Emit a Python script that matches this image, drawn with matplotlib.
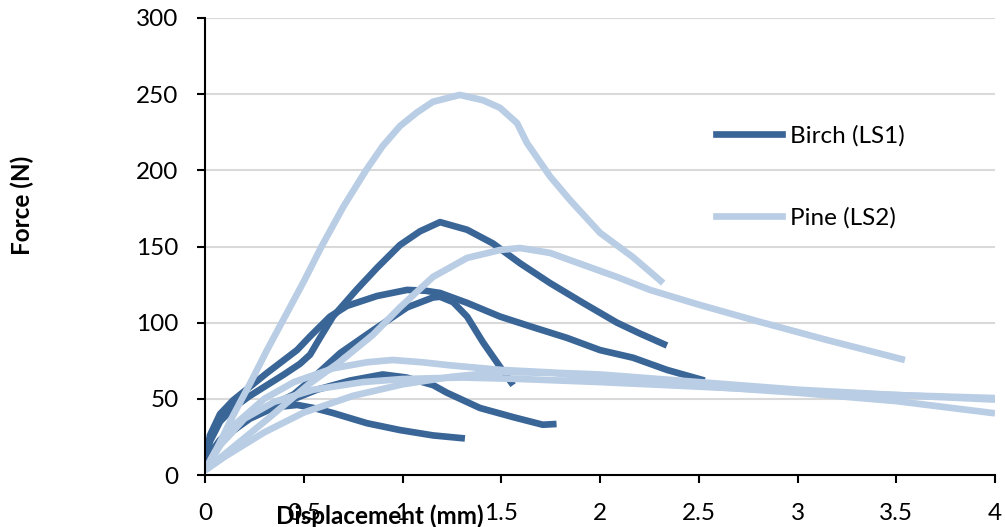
import matplotlib
matplotlib.use("Agg")
import matplotlib.pyplot as plt
from matplotlib.lines import Line2D

# ---------------- data ----------------
birch1_x = [0, 0.025, 0.076, 0.142, 0.228, 0.314, 0.40, 0.481, 0.532, 0.582, 0.648, 0.770, 0.871, 0.987, 1.089, 1.190, 1.327, 1.458, 1.595, 1.747, 1.914, 2.086, 2.20, 2.339]
birch1_y = [8, 22, 35, 44, 52, 59, 66, 73, 79, 90, 104, 122, 136, 151, 160, 166, 161, 152, 139, 126, 113, 100, 93, 85]

birch2_x = [0, 0.025, 0.076, 0.142, 0.228, 0.314, 0.466, 0.532, 0.633, 0.719, 0.871, 1.023, 1.114, 1.190, 1.327, 1.494, 1.661, 1.833, 2.0, 2.167, 2.339, 2.53]
birch2_y = [7, 26, 40, 49, 58, 67, 82, 91, 104, 111, 117.5, 121.5, 121, 119.5, 113, 104, 97, 90, 82, 77, 69, 62]

birch3_x = [0, 0.05, 0.15, 0.3, 0.45, 0.532, 0.684, 0.851, 1.023, 1.154, 1.19, 1.256, 1.327, 1.408, 1.494, 1.56]
birch3_y = [5, 18, 32, 43, 53, 62, 80, 95, 110, 116.5, 117, 113.5, 104, 87, 71, 59]

birch4_x = [0, 0.03, 0.142, 0.228, 0.395, 0.567, 0.734, 0.9, 1.02, 1.155, 1.225, 1.392, 1.56, 1.71, 1.78]
birch4_y = [5, 14, 29, 37, 47, 56, 62, 66, 64, 59, 54, 44, 38, 33, 33.5]

birch5_x = [0, 0.03, 0.076, 0.15, 0.228, 0.3, 0.365, 0.466, 0.55, 0.648, 0.82, 0.987, 1.154, 1.316]
birch5_y = [5, 15, 23, 32, 38, 42, 44.6, 46, 44, 40.7, 34, 29.5, 26, 24]

pine1_x = [0, 0.07, 0.142, 0.228, 0.314, 0.405, 0.5, 0.59, 0.7, 0.815, 0.9, 0.987, 1.073, 1.154, 1.29, 1.408, 1.494, 1.58, 1.63, 1.747, 1.848, 2.0, 2.167, 2.32]
pine1_y = [3, 20, 39, 60, 82, 104, 127, 150, 176, 200, 216, 229, 238, 245, 249.5, 246, 241, 231, 218, 196, 180.5, 159, 143, 126]

pine2_x = [0, 0.14, 0.31, 0.53, 0.68, 0.85, 0.987, 1.154, 1.327, 1.494, 1.595, 1.747, 1.914, 2.086, 2.253, 2.506, 2.81, 3.15, 3.544]
pine2_y = [3, 18, 36, 60, 74, 92, 110, 130, 142.5, 147.7, 149, 145.8, 138, 130, 121.5, 111.6, 100.5, 88.6, 75.5]

pine3_x = [0, 0.05, 0.15, 0.3, 0.45, 0.648, 0.82, 0.95, 1.1, 1.24, 1.5, 1.8, 2.0, 2.5, 3.0, 3.5, 4.0]
pine3_y = [3, 15, 33, 50, 61, 70, 74, 75.5, 74, 72, 69, 67, 66, 61, 56, 52.5, 49.5]

pine4_x = [0, 0.1, 0.3, 0.5, 0.75, 1.0, 1.25, 1.5, 1.75, 2.0, 2.5, 3.0, 3.5, 4.0]
pine4_y = [3, 12, 28, 41, 52, 59.5, 64.5, 67.6, 67, 64, 58.5, 54, 48.5, 40.5]

pine5_x = [0, 0.08, 0.2, 0.35, 0.55, 0.8, 1.0, 1.3, 1.6, 2.0, 2.5, 3.0, 3.5, 4.0]
pine5_y = [3, 20, 37, 48, 56, 61, 63, 64, 63, 61, 58, 55, 52.5, 50.5]

series_labels = ["Birch (LS1)", "Pine (LS2)"]
x_ticks = [0, 0.5, 1, 1.5, 2, 2.5, 3, 3.5, 4]
x_tick_labels = ["0", "0.5", "1", "1.5", "2", "2.5", "3", "3.5", "4"]
y_ticks = [0, 50, 100, 150, 200, 250, 300]
x_label = "Displacement (mm)"
y_label = "Force (N)"

birch_curves = [(birch1_x, birch1_y), (birch2_x, birch2_y), (birch3_x, birch3_y),
                (birch4_x, birch4_y), (birch5_x, birch5_y)]
pine_curves = [(pine1_x, pine1_y), (pine2_x, pine2_y), (pine3_x, pine3_y),
               (pine4_x, pine4_y), (pine5_x, pine5_y)]

# ---------------- style ----------------
plt.rcParams['font.family'] = ['Lato', 'DejaVu Sans']
DARK = "#3A6597"
LIGHT = "#B9CDE5"
LW = 4.8
FS = 17.5

fig = plt.figure(figsize=(10.05, 5.27), dpi=100)
W, H = 1005, 527
ax = fig.add_axes([205 / W, 1 - 475 / H, (995 - 205) / W, (475 - 18) / H])

for xs, ys in birch_curves:
    ax.plot(xs, ys, color=DARK, lw=LW, solid_joinstyle='round', solid_capstyle='butt', zorder=3)
for xs, ys in pine_curves:
    ax.plot(xs, ys, color=LIGHT, lw=LW, solid_joinstyle='round', solid_capstyle='butt', zorder=4)

ax.set_xlim(0, 4)
ax.set_ylim(0, 300)
ax.set_xticks(x_ticks)
ax.set_xticklabels(x_tick_labels)
ax.set_yticks(y_ticks)

for y in y_ticks[1:]:
    ax.axhline(y, color="#D9D9D9", lw=1.5, zorder=1)

for s in ['top', 'right']:
    ax.spines[s].set_visible(False)
for s in ['left', 'bottom']:
    ax.spines[s].set_linewidth(1.5)
    ax.spines[s].set_color('black')
    ax.spines[s].set_zorder(5)

ax.tick_params(axis='x', direction='out', length=6, width=1.5, pad=14, labelsize=FS)
ax.tick_params(axis='y', direction='out', length=6, width=1.5, pad=13, labelsize=FS)

# axis titles
fig.text(380 / W, 1 - 516 / H, x_label, ha='center', va='center',
         fontsize=FS, fontweight='bold')
fig.text(22 / W, 1 - 205 / H, y_label, ha='center', va='center',
         fontsize=FS, fontweight='bold', rotation=90)

# legend
handles = [Line2D([0], [0], color=DARK, lw=LW),
           Line2D([0], [0], color=LIGHT, lw=LW)]
fig.legend(handles, series_labels, loc='center left',
           bbox_to_anchor=(716 / W, 1 - 177 / H), frameon=False,
           fontsize=FS, handlelength=2.7, handletextpad=0.35,
           labelspacing=2.5, borderpad=0, borderaxespad=0)

fig.savefig("out.png", dpi=100)
